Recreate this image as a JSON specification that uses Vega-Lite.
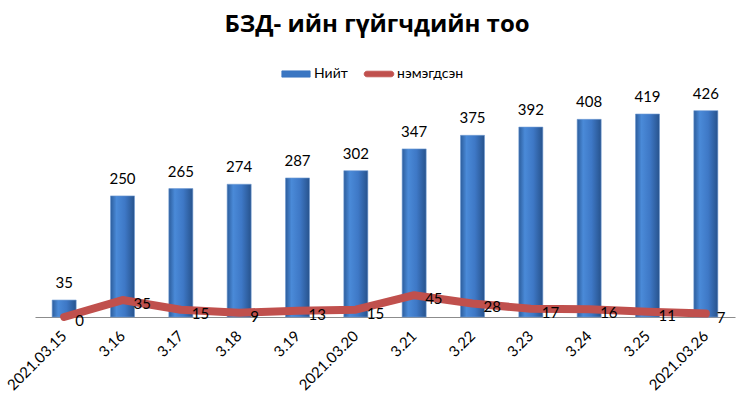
{
  "$schema": "https://vega.github.io/schema/vega-lite/v6.json",
  "autosize": {"type": "none"},
  "width": 700,
  "height": 218,
  "padding": {"left": 35, "top": 99, "right": 14, "bottom": 80},
  "background": "white",
  "title": {
    "text": "БЗД- ийн гүйгчдийн тоо",
    "font": "Open Sans",
    "fontSize": 24,
    "fontWeight": "bold",
    "color": "#000000",
    "anchor": "middle",
    "dx": -8,
    "offset": 22
  },
  "config": {
    "view": {"stroke": null},
    "font": "Lato"
  },
  "data": {
    "values": [
      {"date": "2021.03.15", "total": 35, "added": 0},
      {"date": "3.16", "total": 250, "added": 35},
      {"date": "3.17", "total": 265, "added": 15},
      {"date": "3.18", "total": 274, "added": 9},
      {"date": "3.19", "total": 287, "added": 13},
      {"date": "2021.03.20", "total": 302, "added": 15},
      {"date": "3.21", "total": 347, "added": 45},
      {"date": "3.22", "total": 375, "added": 28},
      {"date": "3.23", "total": 392, "added": 17},
      {"date": "3.24", "total": 408, "added": 16},
      {"date": "3.25", "total": 419, "added": 11},
      {"date": "2021.03.26", "total": 426, "added": 7}
    ]
  },
  "encoding": {
    "x": {
      "field": "date",
      "type": "nominal",
      "sort": null,
      "scale": {"paddingInner": 0, "paddingOuter": 0},
      "axis": {
        "title": null,
        "labelAngle": -45,
        "labelAlign": "right",
        "labelBaseline": "middle",
        "labelFontSize": 15,
        "labelColor": "#000000",
        "labelFont": "Lato",
        "labelPadding": 16,
        "ticks": false,
        "domainColor": "#8c8c8c",
        "domainWidth": 1.2
      }
    }
  },
  "layer": [
    {
      "mark": {
        "type": "bar",
        "width": 24,
        "color": {
          "gradient": "linear",
          "x1": 0, "y1": 0, "x2": 1, "y2": 0,
          "stops": [
            {"offset": 0, "color": "#2c5d9c"},
            {"offset": 0.25, "color": "#4a8ad8"},
            {"offset": 0.6, "color": "#3e78c6"},
            {"offset": 1, "color": "#27538d"}
          ]
        },
        "stroke": "#6f9bd3",
        "strokeWidth": 0.6
      },
      "encoding": {
        "y": {
          "field": "total",
          "type": "quantitative",
          "scale": {"domain": [0, 450]},
          "axis": null
        }
      }
    },
    {
      "mark": {"type": "text", "baseline": "bottom", "dy": -9, "fontSize": 15, "font": "Lato", "color": "#000000"},
      "encoding": {
        "y": {"field": "total", "type": "quantitative"},
        "text": {"field": "total", "type": "quantitative"}
      }
    },
    {
      "mark": {"type": "line", "strokeWidth": 8, "strokeCap": "round", "strokeJoin": "round"},
      "encoding": {
        "y": {"field": "added", "type": "quantitative"},
        "color": {
          "datum": "нэмэгдсэн",
          "type": "nominal",
          "scale": {"domain": ["Нийт", "нэмэгдсэн"], "range": ["#3a76c2", "#c0504d"]},
          "legend": {
            "orient": "none",
            "legendX": 246,
            "legendY": -40,
            "direction": "horizontal",
            "title": null,
            "labelFontSize": 14,
            "labelFont": "Lato",
            "labelColor": "#000000",
            "labelOffset": 3,
            "columnPadding": 14,
            "encode": {
              "symbols": {
                "update": {
                  "shape": {"signal": "datum.value === 'Нийт' ? 'M-1,-0.22H1V0.22H-1Z' : 'M-0.85,-0.2H0.85A0.2,0.2,0,0,1,0.85,0.2H-0.85A0.2,0.2,0,0,1,-0.85,-0.2Z'"},
                  "size": {"value": 800},
                  "fill": {"signal": "datum.value === 'Нийт' ? '#3a76c2' : '#c0504d'"},
                  "fillOpacity": {"value": 1},
                  "stroke": {"signal": "datum.value === 'Нийт' ? '#27538d' : '#c0504d'"},
                  "strokeWidth": {"value": 0.8},
                  "opacity": {"value": 1}
                }
              }
            }
          }
        }
      }
    },
    {
      "mark": {"type": "text", "align": "left", "baseline": "middle", "dx": 11, "dy": 4, "fontSize": 15, "font": "Lato", "color": "#000000"},
      "encoding": {
        "y": {"field": "added", "type": "quantitative"},
        "text": {"field": "added", "type": "quantitative"}
      }
    }
  ]
}
